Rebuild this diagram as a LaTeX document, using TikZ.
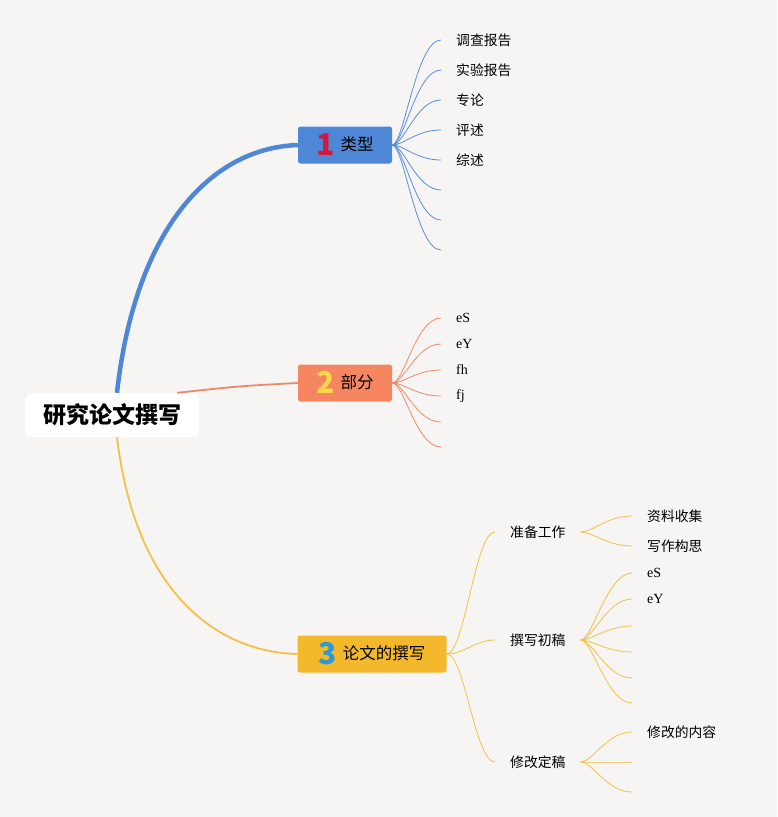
\documentclass[tikz,border=0pt]{standalone}
\usepackage{fontspec}
\setmainfont{Liberation Serif}
\newfontfamily\cjk{Noto Sans CJK SC}

\definecolor{bgcol}{HTML}{F6F5F3}
\definecolor{blueA}{HTML}{4F87D7}
\definecolor{orangeA}{HTML}{F5865F}
\definecolor{yellowA}{HTML}{F3B82B}
\definecolor{blueL}{HTML}{5B8DD9}
\definecolor{orangeL}{HTML}{F0896A}
\definecolor{yellowL}{HTML}{F3C04A}
\definecolor{redN}{HTML}{D4173F}
\definecolor{yelN}{HTML}{F9D74A}
\definecolor{bluN}{HTML}{2B9AD8}

\newcommand{\bignum}[2]{\raisebox{-4.5pt}{\color{#1}\cjk\bfseries\fontsize{30}{30}\selectfont #2}\hspace{6pt}}

\begin{document}
\begin{tikzpicture}[x=1pt,y=-1pt,
    rootbox/.style={fill=white, rounded corners=8pt, minimum width=174pt, minimum height=44pt, inner sep=0pt, font=\cjk\bfseries\fontsize{23}{23}\selectfont},
    topic/.style={rounded corners=2.5pt, minimum height=37pt, inner sep=0pt, text height=14pt, text depth=2.2pt, font=\cjk\fontsize{16.5}{17}\selectfont},
    leaf/.style={anchor=west, inner xsep=15pt, inner ysep=0pt, font=\cjk\fontsize{13.8}{15}\selectfont},
    leafen/.style={leaf, font=\fontsize{14}{15}\selectfont},
    fanline/.style={line width=0.8pt}]

    \fill[bgcol](0,0)rectangle(777,817);

    \node[rootbox](root) at (112,415){研究论文撰写};
    \node[topic, fill=blueA, minimum width=94pt](lx) at (345,145){\bignum{redN}{1}类型};
    \node[topic, fill=orangeA, minimum width=94pt](bf) at (345,383){\bignum{yelN}{2}部分};
    \node[topic, fill=yellowA, minimum width=149pt](zx) at (372,654){\bignum{bluN}{3}论文的撰写};

    \draw[blueA, line width=4.5pt]([xshift=5pt]root.north) .. controls (135,230) and (210,148) .. (lx.west);
    \draw[orangeL, line width=1.8pt]([xshift=-22pt]root.north east) .. controls (240,386) .. (bf.west);
    \draw[yellowL, line width=1.8pt]([xshift=5pt]root.south) .. controls (135,590) and (215,652) .. (zx.west);

    % 类型
    \foreach \y/\t [count=\i] in {40/调查报告,70/实验报告,100/专论,130/评述,160/综述,190/{},220/{},250/{}}{
        \node[leaf](lx\i) at (441,\y){\t};
        \draw[fanline, blueL](lx.east) .. controls +(12,0) and +(-25,0) .. (lx\i.west);
    }

    % 部分
    \foreach \y/\t [count=\i] in {318/eS,344/eY,370/fh,396/fj,422/{},447/{}}{
        \node[leafen](bf\i) at (441,\y){\t};
        \draw[fanline, orangeL](bf.east) .. controls +(12,0) and +(-25,0) .. (bf\i.west);
    }

    % 论文的撰写
    \node[leaf](zb) at (495,532){准备工作};
    \node[leaf](zc) at (495,640){撰写初稿};
    \node[leaf](xg) at (495,762){修改定稿};
    \foreach \n in {zb,zc,xg}
        \draw[fanline, yellowL](zx.east) .. controls +(18,0) and +(-20,0) .. (\n.west);

    \foreach \y/\t [count=\i] in {516/资料收集,546/写作构思}{
        \node[leaf](zb\i) at (632,\y){\t};
        \draw[fanline, yellowL](zb.east) .. controls +(12,0) and +(-25,0) .. (zb\i.west);
    }
    \foreach \y/\t [count=\i] in {573/eS,599/eY,626/{},652/{},678/{},703/{}}{
        \node[leafen](zc\i) at (632,\y){\t};
        \draw[fanline, yellowL](zc.east) .. controls +(12,0) and +(-25,0) .. (zc\i.west);
    }
    \foreach \y/\t [count=\i] in {732/修改的内容,762/{},792/{}}{
        \node[leaf](xg\i) at (632,\y){\t};
        \draw[fanline, yellowL](xg.east) .. controls +(12,0) and +(-25,0) .. (xg\i.west);
    }
\end{tikzpicture}
\end{document}
